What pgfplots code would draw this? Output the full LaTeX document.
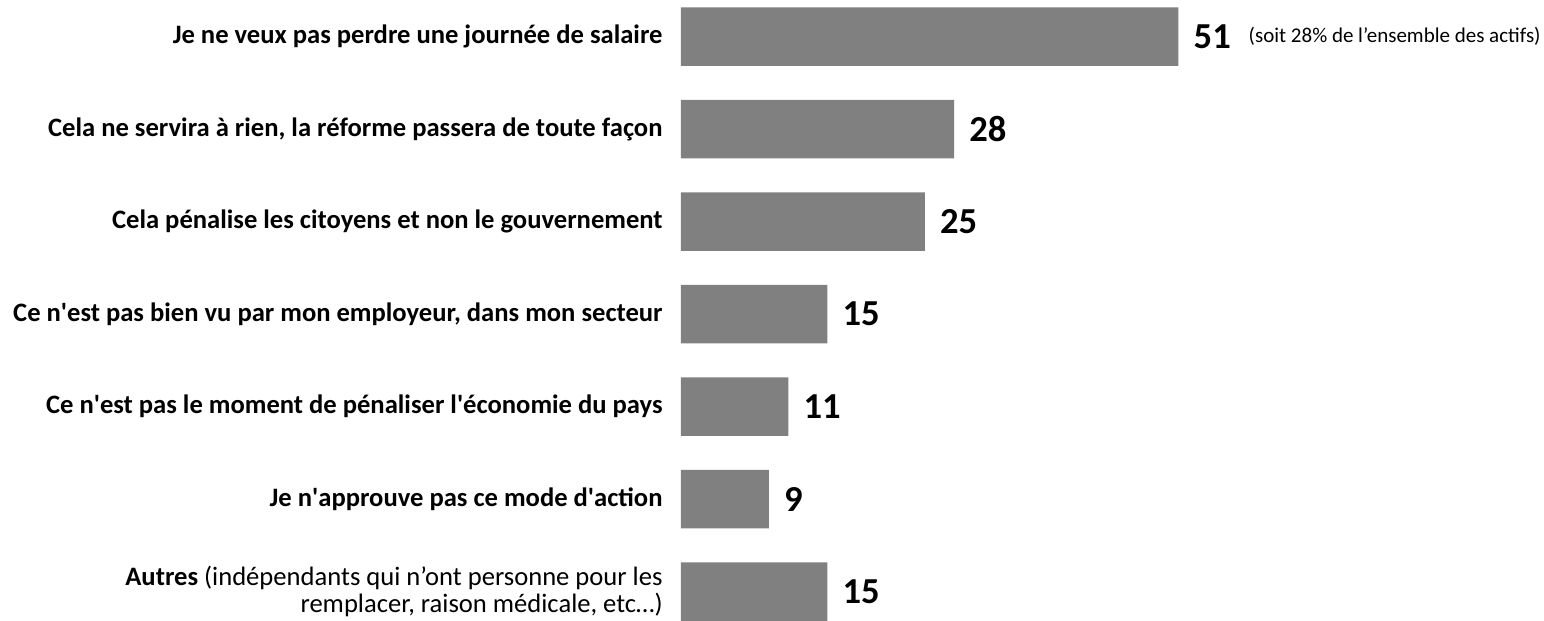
\documentclass[border=0pt]{standalone}
\usepackage{fontspec}
\setmainfont{Carlito}
\usepackage{pgfplots}
\pgfplotsset{compat=1.18}
\definecolor{bargray}{HTML}{808080}
\newcommand\q{\textquotesingle}
\begin{document}
\begin{tikzpicture}
\begin{axis}[
  xbar, scale only axis,
  width=431.5pt, height=309.8pt,
  xmin=0, xmax=88.5,
  ymin=-0.395, ymax=6.303,
  y dir=reverse,
  bar width=29.25pt,
  axis line style={draw=none},
  tick style={draw=none},
  major tick length=0pt,
  xtick=\empty,
  ytick={0,1,2,3,4,5,6},
  /pgf/number format/assume math mode=true,
  yticklabels={
    {Je ne veux pas perdre une journée de salaire},
    {Cela ne servira à rien, la réforme passera de toute façon},
    {Cela pénalise les citoyens et non le gouvernement},
    {Ce n\q est pas bien vu par mon employeur, dans mon secteur},
    {Ce n\q est pas le moment de pénaliser l\q économie du pays},
    {Je n\q approuve pas ce mode d\q action},
    {Autres \mdseries(indépendants qui n’ont personne pour les\\ \mdseries remplacer, raison médicale, etc…)}
  },
  yticklabel style={font=\fontsize{13.3}{13.5}\selectfont\bfseries, inner sep=0pt, xshift=-9pt, align=right},
  nodes near coords,
  nodes near coords style={font=\fontsize{18.3}{22}\selectfont\bfseries, anchor=west, inner sep=0pt, xshift=7.5pt},
  clip=false,
]
\addplot[fill=bargray, draw=none] coordinates {(51,0) (28,1) (25,2) (15,3) (11,4) (9,5) (15,6)};
\node[anchor=west, font=\fontsize{10.5}{12}\selectfont, inner sep=0pt] at ([xshift=35pt]axis cs:51,0) {(soit 28\% de l’ensemble des actifs)};
\path ([xshift=-340.5pt]rel axis cs:0,0) rectangle (rel axis cs:1,1);
\end{axis}
\end{tikzpicture}
\end{document}
